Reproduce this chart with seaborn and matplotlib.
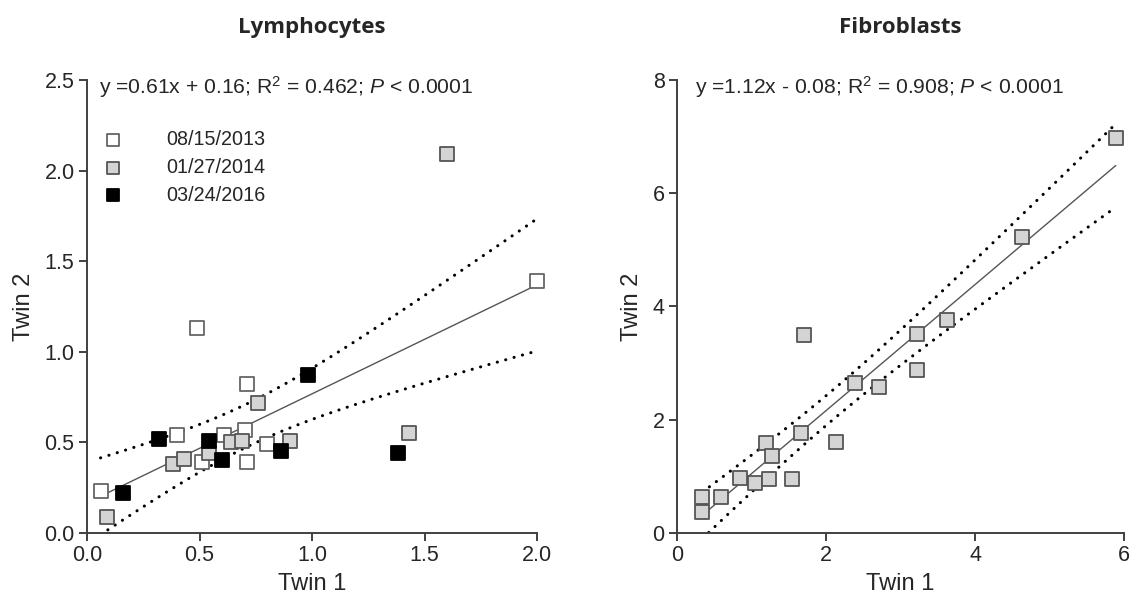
import numpy as np
import pandas as pd
import matplotlib
matplotlib.use("Agg")
import matplotlib.pyplot as plt
import seaborn as sns

# Lymphocytes, one set per sampling date
lym_dates = ["08/15/2013", "01/27/2014", "03/24/2016"]
lym_x_2013 = [0.06, 0.49, 0.71, 0.40, 0.61, 0.70, 0.51, 0.71, 0.80, 2.00]
lym_y_2013 = [0.23, 1.13, 0.82, 0.54, 0.54, 0.57, 0.39, 0.39, 0.49, 1.39]
lym_x_2014 = [0.09, 0.38, 0.43, 0.54, 0.64, 0.69, 0.76, 0.90, 1.43, 1.60]
lym_y_2014 = [0.09, 0.38, 0.41, 0.44, 0.50, 0.51, 0.72, 0.51, 0.55, 2.09]
lym_x_2016 = [0.16, 0.32, 0.54, 0.60, 0.86, 0.98, 1.38]
lym_y_2016 = [0.22, 0.52, 0.51, 0.40, 0.45, 0.87, 0.44]

# Fibroblasts
fib_x = [0.34, 0.34, 0.59, 0.85, 1.05, 1.24, 1.19, 1.27, 1.55, 1.66, 1.70,
         2.14, 2.39, 2.71, 3.22, 3.22, 3.62, 4.63, 5.89]
fib_y = [0.64, 0.37, 0.64, 0.97, 0.88, 0.96, 1.59, 1.36, 0.96, 1.77, 3.49,
         1.61, 2.65, 2.58, 2.88, 3.52, 3.77, 5.22, 6.97]

lym_text = r"y =0.61x + 0.16; R$^2$ = 0.462; $\mathit{P}$ < 0.0001"
fib_text = r"y =1.12x - 0.08; R$^2$ = 0.908; $\mathit{P}$ < 0.0001"

date_fill = ["white", "#d4d4d4", "black"]
date_edge = ["#666666", "#555555", "black"]
SPINE = "#404040"

sns.set_style("ticks")
plt.rcParams["font.family"] = ["Liberation Sans", "DejaVu Sans"]
plt.rcParams["mathtext.fontset"] = "custom"
plt.rcParams["mathtext.rm"] = "Liberation Sans"
plt.rcParams["mathtext.it"] = "Liberation Sans:italic"


def conf_band(ax, x, y):
    # 95% confidence band of the fitted line
    x = np.asarray(x)
    y = np.asarray(y)
    n = len(x)
    b, a = np.polyfit(x, y, 1)
    resid = y - (a + b * x)
    s = np.sqrt(np.sum(resid ** 2) / (n - 2))
    sxx = np.sum((x - x.mean()) ** 2)
    t = 2.06 if n > 25 else 2.11
    xs = np.linspace(x.min(), x.max(), 200)
    half = t * s * np.sqrt(1 / n + (xs - x.mean()) ** 2 / sxx)
    for sign in (1, -1):
        ax.plot(xs, a + b * xs + sign * half, color="black", lw=2.2,
                linestyle=(0, (0.05, 2.8)), dash_capstyle="round")


def style_axes(ax):
    sns.despine(ax=ax)
    for side in ("left", "bottom"):
        ax.spines[side].set_color(SPINE)
        ax.spines[side].set_linewidth(1.4)
    ax.tick_params(direction="out", length=6, width=1.4, color=SPINE,
                   labelsize=15.5, pad=3)
    ax.set_xlabel("Twin 1", fontsize=17, labelpad=5)
    ax.set_ylabel("Twin 2", fontsize=17, labelpad=7)


fig = plt.figure(figsize=(11.35, 6.06), dpi=100)
ax1 = fig.add_axes([0.0767, 0.1205, 0.3965, 0.7475])
ax2 = fig.add_axes([0.5965, 0.1205, 0.3938, 0.7475])

lym = pd.concat([
    pd.DataFrame({"x": lym_x_2013, "y": lym_y_2013, "date": lym_dates[0]}),
    pd.DataFrame({"x": lym_x_2014, "y": lym_y_2014, "date": lym_dates[1]}),
    pd.DataFrame({"x": lym_x_2016, "y": lym_y_2016, "date": lym_dates[2]}),
])

conf_band(ax1, lym["x"], lym["y"])
sns.regplot(data=lym, x="x", y="y", scatter=False, ci=None, ax=ax1,
            line_kws={"color": "#555555", "lw": 1})
for d, fc, ec in zip(lym_dates, date_fill, date_edge):
    sub = lym[lym["date"] == d]
    sns.scatterplot(data=sub, x="x", y="y", marker="s", s=115, color=fc,
                    edgecolor=ec, linewidth=1.3, ax=ax1, label=d, zorder=3)

ax1.set_xlim(0, 2)
ax1.set_ylim(0, 2.5)
ax1.set_xticks(np.arange(0, 2.01, 0.5))
ax1.set_yticks(np.arange(0, 2.51, 0.5))
ax1.xaxis.set_major_formatter(matplotlib.ticker.FormatStrFormatter("%.1f"))
ax1.yaxis.set_major_formatter(matplotlib.ticker.FormatStrFormatter("%.1f"))
style_axes(ax1)
ax1.legend(loc="upper left", bbox_to_anchor=(0.036, 0.89), frameon=False,
           fontsize=14.2, handlelength=1, handletextpad=2.2, labelspacing=0.45,
           borderpad=0, borderaxespad=0, markerscale=0.85)
ax1.text(0.027, 0.985, lym_text, transform=ax1.transAxes, fontsize=15.2,
         va="center", ha="left")
ax1.set_title("Lymphocytes", fontsize=16, fontweight="bold",
              family=["Open Sans", "DejaVu Sans"], pad=34)

fib = pd.DataFrame({"x": fib_x, "y": fib_y})
conf_band(ax2, fib["x"], fib["y"])
sns.regplot(data=fib, x="x", y="y", scatter=False, ci=None, ax=ax2,
            line_kws={"color": "#555555", "lw": 1})
sns.scatterplot(data=fib, x="x", y="y", marker="s", s=115, color=date_fill[1],
                edgecolor=date_edge[1], linewidth=1.3, ax=ax2, zorder=3)
ax2.set_xlim(0, 6)
ax2.set_ylim(0, 8)
ax2.set_xticks([0, 2, 4, 6])
ax2.set_yticks([0, 2, 4, 6, 8])
style_axes(ax2)
ax2.text(0.04, 0.985, fib_text, transform=ax2.transAxes, fontsize=15.2,
         va="center", ha="left")
ax2.set_title("Fibroblasts", fontsize=16, fontweight="bold",
              family=["Open Sans", "DejaVu Sans"], pad=34)

for ax in (ax1, ax2):
    for coll in ax.collections:
        coll.set_clip_on(False)

fig.savefig("out.png", dpi=100, facecolor="white")
